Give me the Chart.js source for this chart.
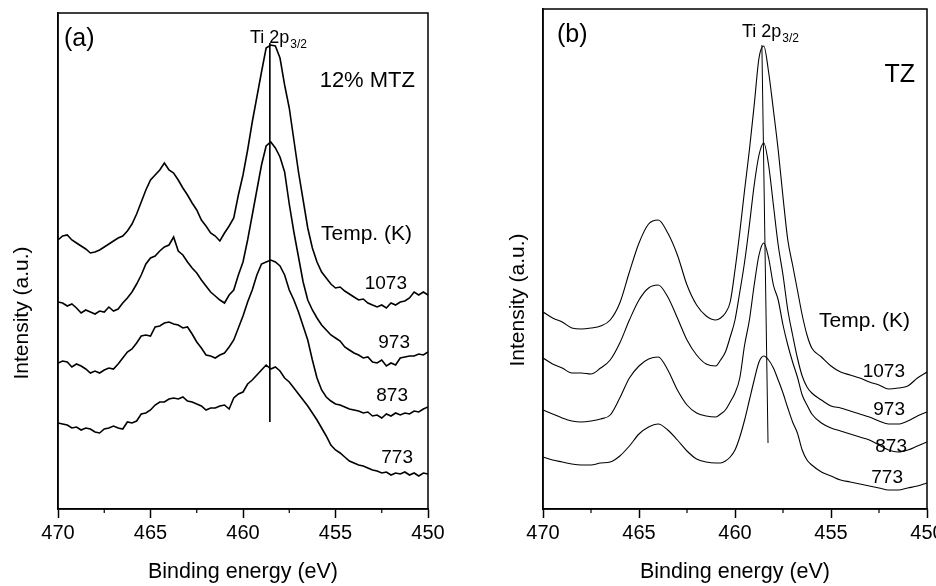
<!DOCTYPE html>
<html>
<head>
<meta charset="utf-8">
<script src="https://cdn.jsdelivr.net/npm/chart.js@4.4.0/dist/chart.umd.min.js"></script>
<style>
  html, body { margin: 0; padding: 0; background: #fff; overflow: hidden; }
  #wrapA { position: absolute; left: 0; top: 0; width: 468px; height: 586px; }
  #wrapB { position: absolute; left: 468px; top: 0; width: 490px; height: 586px; }
</style>
</head>
<body>
<div id="wrapA"><canvas id="chartA"></canvas></div>
<div id="wrapB"><canvas id="chartB"></canvas></div>
<script>
// binding energy grid (eV)
var energiesA = [];
for (var e = 470; e >= 449.99; e -= 0.25) energiesA.push(Math.round(e * 100) / 100);

var energiesB = [470, 469.5, 469, 468.5, 468, 467.5, 467, 466.5, 466, 465.5, 465, 464.5, 464, 463.5, 463, 462.5, 462, 461.5,
  461, 460.75, 460.5, 460.25, 460, 459.75, 459.5, 459.25, 459, 458.75, 458.5, 458.25, 458, 457.75, 457.5, 457.25, 457, 456.75, 456.5, 456.25, 456,
  455.5, 455, 454.5, 454, 453.5, 453, 452.5, 452, 451.5, 451, 450.5, 450];

var temps = ['1073', '973', '873', '773'];

// (a) 12% MTZ, intensity (a.u.)
var mtz1073 = [269,273,274,269,266,263,260,256,257,259,
  262,265,268,271,273,278,285,295,307,319,
  329,334,339,346,339,336,329,321,314,306,
  299,289,283,276,273,268,276,283,291,314,
  334,359,387,412,437,461,464,463,451,424,
  401,369,337,309,281,261,247,237,231,225,
  221,222,218,215,212,209,210,206,204,202,
  204,201,206,204,207,208,211,217,214,217,
  214];
var mtz973 = [207,206,203,205,201,196,199,197,195,198,
  197,202,198,200,206,211,217,225,234,245,
  251,253,258,262,264,272,258,254,247,241,
  236,229,223,217,213,209,206,214,219,234,
  247,269,294,319,344,363,367,361,352,337,
  305,277,252,227,209,199,191,184,179,174,
  171,168,162,159,156,154,151,152,147,146,
  149,143,146,144,151,152,153,153,155,154,
  157];
var mtz873 = [146,148,147,142,145,143,140,136,138,136,
  139,141,140,145,151,157,160,166,173,174,
  173,182,183,186,187,185,184,181,182,175,
  167,161,154,153,151,154,156,162,169,181,
  193,207,219,234,245,247,249,247,243,234,
  219,209,197,183,169,149,131,119,112,108,
  105,104,102,100,99,98,96,97,93,94,
  91,95,93,96,94,96,95,98,97,100,
  102];
var mtz773 = [86,85,84,81,82,79,81,80,77,76,
  80,81,83,81,80,87,86,88,95,96,
  99,104,107,107,110,111,110,112,108,107,
  105,103,99,101,101,103,104,100,111,115,
  117,125,129,134,139,144,140,142,138,131,
  127,121,115,109,103,96,89,81,73,64,
  59,56,52,48,46,44,43,41,39,38,
  36,37,34,36,35,37,34,36,33,36,
  35];

// (b) TZ, intensity (a.u.)
var tz1073 = [197,191,187,181,180,181,183,189,206,237,266,285,289,276,254,224,204,193,
  189,191,196,207,239,277,319,359,404,451,463,437,399,359,312,269,244,219,194,174,161,
  152,143,137,134,131,127,124,120,121,123,131,137];
var tz973 = [151,145,141,136,136,135,141,149,166,189,209,221,224,212,191,169,154,145,
  143,149,157,172,189,217,247,284,324,354,366,344,304,264,234,199,174,151,133,122,116,
  109,103,101,98,95,92,88,85,85,88,93,97];
var tz873 = [99,95,91,88,87,88,90,94,111,131,143,150,152,139,119,104,96,93,
  92,95,99,107,116,131,164,189,224,254,266,251,224,209,184,164,147,132,114,104,95,
  86,81,78,75,72,69,64,59,57,59,63,67];
var tz773 = [52,49,47,45,44,44,46,47,53,63,75,82,85,79,69,58,50,47,
  46,46,48,52,59,72,89,109,129,147,153,149,141,129,116,101,87,76,59,49,44,
  37,33,29,27,25,23,21,19,19,21,23,26];

// Ti 2p3/2 marker lines
var markA = {x: [458.55, 458.55], y: [466, 87]};
var markB = {x: [458.6, 458.28], y: [464, 66]};

var minorTicks = [467.5, 462.5, 457.5, 452.5];
var FONT = "'Liberation Sans', Arial, sans-serif";

Chart.defaults.font.family = FONT;
Chart.defaults.color = '#000';

function ser(xs, ys) {
  return xs.map(function (x, i) { return {x: x, y: ys[i]}; });
}

var boxPlugin = {
  id: 'box',
  afterDraw: function (chart, args, opts) {
    var ctx = chart.ctx, a = chart.chartArea, sx = chart.scales.x;
    ctx.save();
    ctx.strokeStyle = '#000';
    ctx.lineWidth = 1.5;
    ctx.strokeRect(a.left, a.top, a.right - a.left, a.bottom - a.top);
    ctx.lineWidth = 1.2;
    minorTicks.forEach(function (v) {
      var px = sx.getPixelForValue(v);
      ctx.beginPath();
      ctx.moveTo(px, a.bottom);
      ctx.lineTo(px, a.bottom + 4);
      ctx.stroke();
    });
    ctx.fillStyle = '#000';
    ctx.textBaseline = 'alphabetic';
    opts.texts.forEach(function (t) {
      ctx.font = t[3] + 'px ' + FONT;
      ctx.textAlign = t[4] || 'left';
      ctx.fillText(t[0], t[1] - opts.offset, t[2]);
    });
    // peak label with subscript
    var p = opts.peak;
    ctx.textAlign = 'left';
    ctx.font = '18px ' + FONT;
    ctx.fillText('Ti 2p', p[0] - opts.offset, p[1]);
    var w = ctx.measureText('Ti 2p').width;
    ctx.font = '12px ' + FONT;
    ctx.fillText('3/2', p[0] - opts.offset + w + 1, p[1] + 5);
    // y axis title
    ctx.translate(opts.yTitle[0] - opts.offset, opts.yTitle[1]);
    ctx.rotate(-Math.PI / 2);
    ctx.font = '21px ' + FONT;
    ctx.textAlign = 'center';
    ctx.textBaseline = 'middle';
    ctx.fillText('Intensity (a.u.)', 0, 0);
    ctx.restore();
  }
};

function makeChart(id, xs, series, mark, lw, smooth, ymax, padding, yWidth, annot) {
  var ds = series.map(function (s, i) {
    return {
      label: temps[i],
      data: ser(xs, s),
      borderColor: '#000',
      borderWidth: lw,
      pointRadius: 0,
      tension: 0,
      cubicInterpolationMode: smooth ? 'monotone' : 'default'
    };
  });
  ds.push({
    label: 'Ti 2p3/2',
    data: ser(mark.x, mark.y),
    borderColor: '#000',
    borderWidth: 1,
    pointRadius: 0
  });
  return new Chart(document.getElementById(id), {
    type: 'line',
    data: {datasets: ds},
    options: {
      responsive: true,
      maintainAspectRatio: false,
      animation: false,
      devicePixelRatio: 1,
      layout: {padding: padding},
      plugins: {legend: {display: false}, tooltip: {enabled: false}, box: annot},
      scales: {
        x: {
          type: 'linear', reverse: true, min: 450, max: 470,
          ticks: {stepSize: 5, font: {size: 20}, color: '#000', padding: 3, maxRotation: 0},
          grid: {display: true, drawOnChartArea: false, drawTicks: true, tickLength: 9, color: '#000', tickWidth: 1.5},
          border: {display: true, color: '#000', width: 1.5},
          title: {display: true, text: 'Binding energy (eV)', font: {size: 21.5}, color: '#000', padding: {top: 0, bottom: 1}},
          afterFit: function (s) { s.height = 77; }
        },
        y: {
          min: 0, max: ymax,
          ticks: {display: false},
          grid: {display: false},
          border: {display: true, color: '#000', width: 1.5},
          afterFit: function (s) { s.width = yWidth; }
        }
      }
    },
    plugins: [boxPlugin]
  });
}

makeChart('chartA', energiesA, [mtz1073, mtz973, mtz873, mtz773], markA, 1.6, false, 496,
  {top: 13, right: 40, left: 0, bottom: 0}, 58, {
    offset: 0,
    yTitle: [22, 313],
    peak: [250, 43],
    texts: [
      ['(a)', 64, 46, 25],
      ['12% MTZ', 415, 87, 22, 'right'],
      ['Temp. (K)', 412, 240, 21, 'right'],
      ['1073', 407, 289, 19, 'right'],
      ['973', 410, 348, 19, 'right'],
      ['873', 408, 401, 19, 'right'],
      ['773', 413, 463, 19, 'right']
    ]
  });

makeChart('chartB', energiesB, [tz1073, tz973, tz873, tz773], markB, 1.1, true, 500,
  {top: 9, right: 31, left: 0, bottom: 0}, 75, {
    offset: 468,
    yTitle: [518, 300],
    peak: [742, 37],
    texts: [
      ['(b)', 557, 42, 25],
      ['TZ', 915, 82, 25, 'right'],
      ['Temp. (K)', 910, 327, 21, 'right'],
      ['1073', 905, 377, 19, 'right'],
      ['973', 905, 415, 19, 'right'],
      ['873', 907, 452, 19, 'right'],
      ['773', 903, 483, 19, 'right']
    ]
  });
</script>
</body>
</html>
